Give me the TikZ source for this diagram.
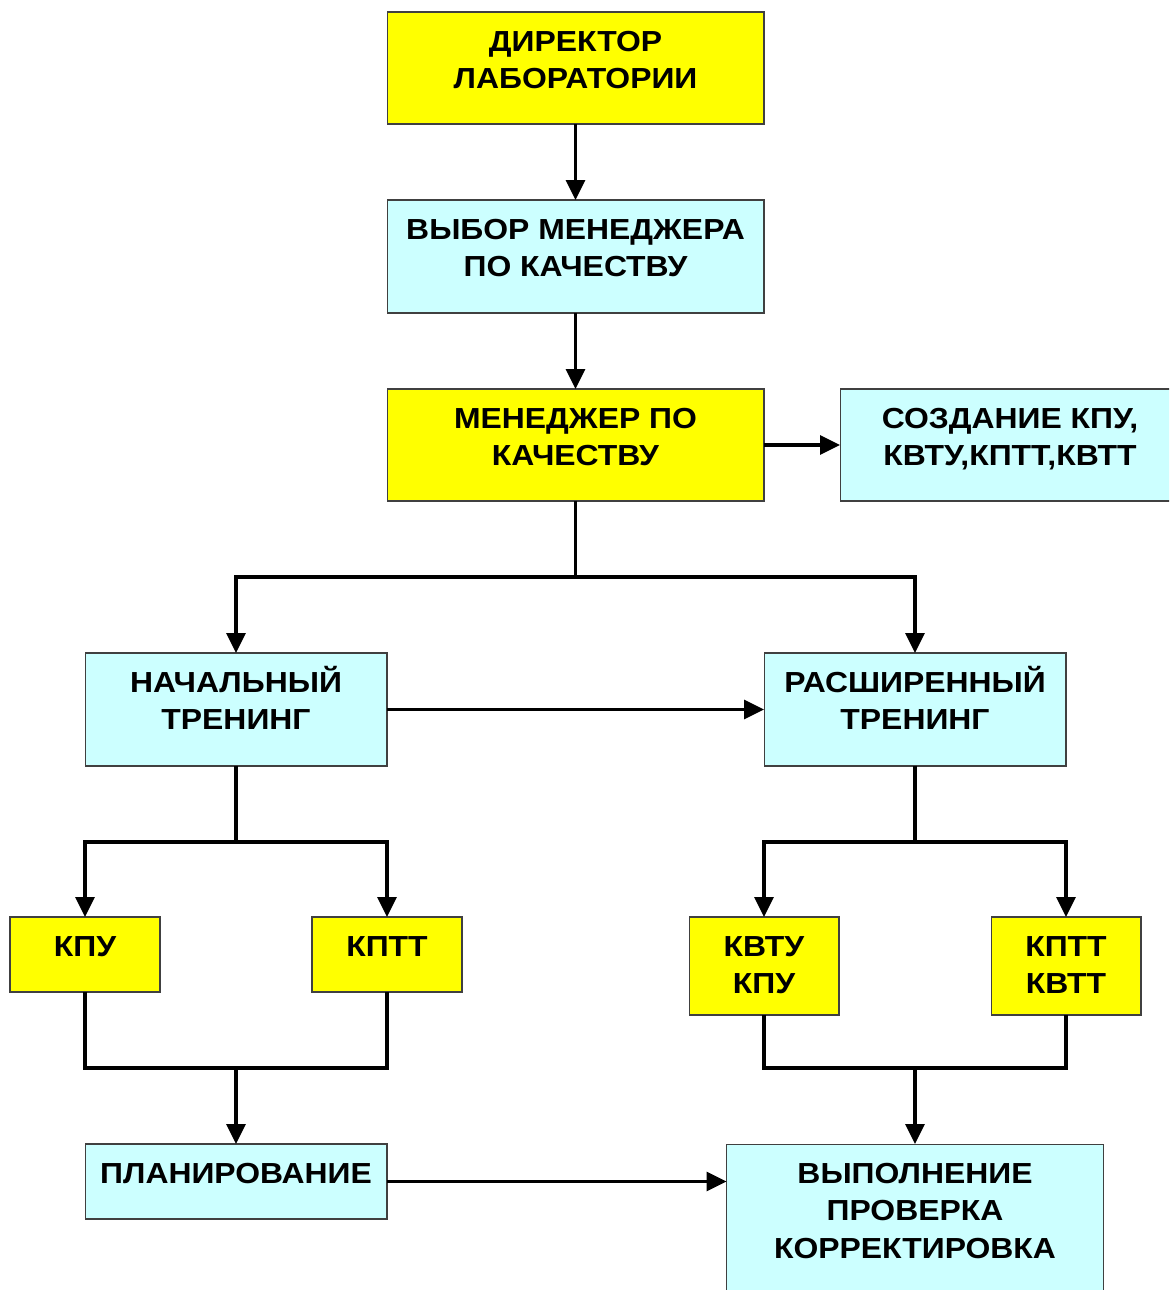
\documentclass[tikz,border=0pt]{standalone}
\usepackage{fontspec}
\setmainfont{Liberation Sans}[FakeStretch=1.1]
\usepackage{tikz}
\usetikzlibrary{positioning}
\usetikzlibrary{arrows.meta}

\definecolor{boxyellow}{RGB}{255,255,0}
\definecolor{boxcyan}{RGB}{204,255,255}
\definecolor{boxline}{RGB}{64,64,64}

\newcommand{\fl}{\rule{0pt}{16pt}}

\begin{document}
\begin{tikzpicture}[x=0.02cm, y=-0.02cm,
  ybox/.style={draw=boxline, line width=0.6pt, fill=boxyellow, inner sep=0, outer sep=0},
  cbox/.style={draw=boxline, line width=0.6pt, fill=boxcyan, inner sep=0, outer sep=0},
  txt/.style={anchor=north, inner sep=0, align=center, font=\bfseries\fontsize{16.5}{21.3}\selectfont},
  conn/.style={line width=1.8pt},
  arr/.style={conn, -{Triangle[length=0.4cm, width=0.38cm]}}]

\useasboundingbox (0,0) rectangle (1169,1290);
\clip (0,0) rectangle (1169,1290);

% boxes
\node[ybox, minimum width=7.54cm, minimum height=2.24cm] (dir) at (575.5,68) {};
\node[cbox, minimum width=7.54cm, minimum height=2.26cm] (vybor) at (575.5,256.5) {};
\node[ybox, minimum width=7.54cm, minimum height=2.24cm] (men) at (575.5,445) {};
\node[cbox, minimum width=6.8cm, minimum height=2.24cm] (sozd) at (1010,445) {};

\node[cbox, minimum width=6.04cm, minimum height=2.26cm] (nach) at (236,709.5) {};
\node[cbox, minimum width=6.04cm, minimum height=2.26cm] (rasch) at (915,709.5) {};

\node[ybox, minimum width=3cm, minimum height=1.5cm] (kpu) at (85,954.5) {};
\node[ybox, minimum width=3cm, minimum height=1.5cm] (kptt) at (387,954.5) {};
\node[ybox, minimum width=3cm, minimum height=1.96cm] (kvtu) at (764,966) {};
\node[ybox, minimum width=3cm, minimum height=1.96cm] (kvtt) at (1066,966) {};

\node[cbox, minimum width=6.04cm, minimum height=1.5cm] (plan) at (236,1181.5) {};
\node[cbox, minimum width=7.54cm, minimum height=3.3cm] (vyp) at (915,1226.5) {};

% texts
\node[txt, below=0.216cm of dir.north] (dir-t) {\fl ДИРЕКТОР\\ЛАБОРАТОРИИ};
\node[txt, below=0.216cm of vybor.north] (vybor-t) {\fl ВЫБОР МЕНЕДЖЕРА\\ПО КАЧЕСТВУ};
\node[txt, below=0.216cm of men.north] (men-t) {\fl МЕНЕДЖЕР ПО\\КАЧЕСТВУ};
\node[txt, below=0.216cm of sozd.north] (sozd-t) {\fl СОЗДАНИЕ КПУ,\\КВТУ,КПТТ,КВТТ};
\node[txt, below=0.216cm of nach.north] (nach-t) {\fl НАЧАЛЬНЫЙ\\ТРЕНИНГ};
\node[txt, below=0.216cm of rasch.north] (rasch-t) {\fl РАСШИРЕННЫЙ\\ТРЕНИНГ};
\node[txt, below=0.216cm of kpu.north] (kpu-t) {\fl КПУ};
\node[txt, below=0.216cm of kptt.north] (kptt-t) {\fl КПТТ};
\node[txt, below=0.216cm of kvtu.north] (kvtu-t) {\fl КВТУ\\КПУ};
\node[txt, below=0.216cm of kvtt.north] (kvtt-t) {\fl КПТТ\\КВТТ};
\node[txt, below=0.216cm of plan.north] (plan-t) {\fl ПЛАНИРОВАНИЕ};
\node[txt, below=0.216cm of vyp.north] (vyp-t) {\fl ВЫПОЛНЕНИЕ\\ПРОВЕРКА\\КОРРЕКТИРОВКА};

% branch points
\coordinate (s1) at (575.5,577);
\coordinate (s2) at (236,842);
\coordinate (s3) at (915,842);
\coordinate (j1) at (236,1068);
\coordinate (j2) at (915,1068);

% connectors
\draw[arr] (dir) -- (vybor);
\draw[arr] (vybor) -- (men);
\draw[arr] (men) -- (sozd);
\draw[conn] (men) -- (s1);
\draw[arr] (s1) -| (nach);
\draw[arr] (s1) -| (rasch);
\draw[arr] (nach) -- (rasch);

\draw[conn] (nach) -- (s2);
\draw[arr] (s2) -| (kpu);
\draw[arr] (s2) -| (kptt);
\draw[conn] (rasch) -- (s3);
\draw[arr] (s3) -| (kvtu);
\draw[arr] (s3) -| (kvtt);

\draw[conn] (kpu.south) |- (j1) -| (kptt.south);
\draw[arr] (j1) -- (plan);
\draw[conn] (kvtu.south) |- (j2) -| (kvtt.south);
\draw[arr] (j2) -- (vyp);
\draw[arr] (plan.east) -- (plan.east -| vyp.west);

\end{tikzpicture}
\end{document}
